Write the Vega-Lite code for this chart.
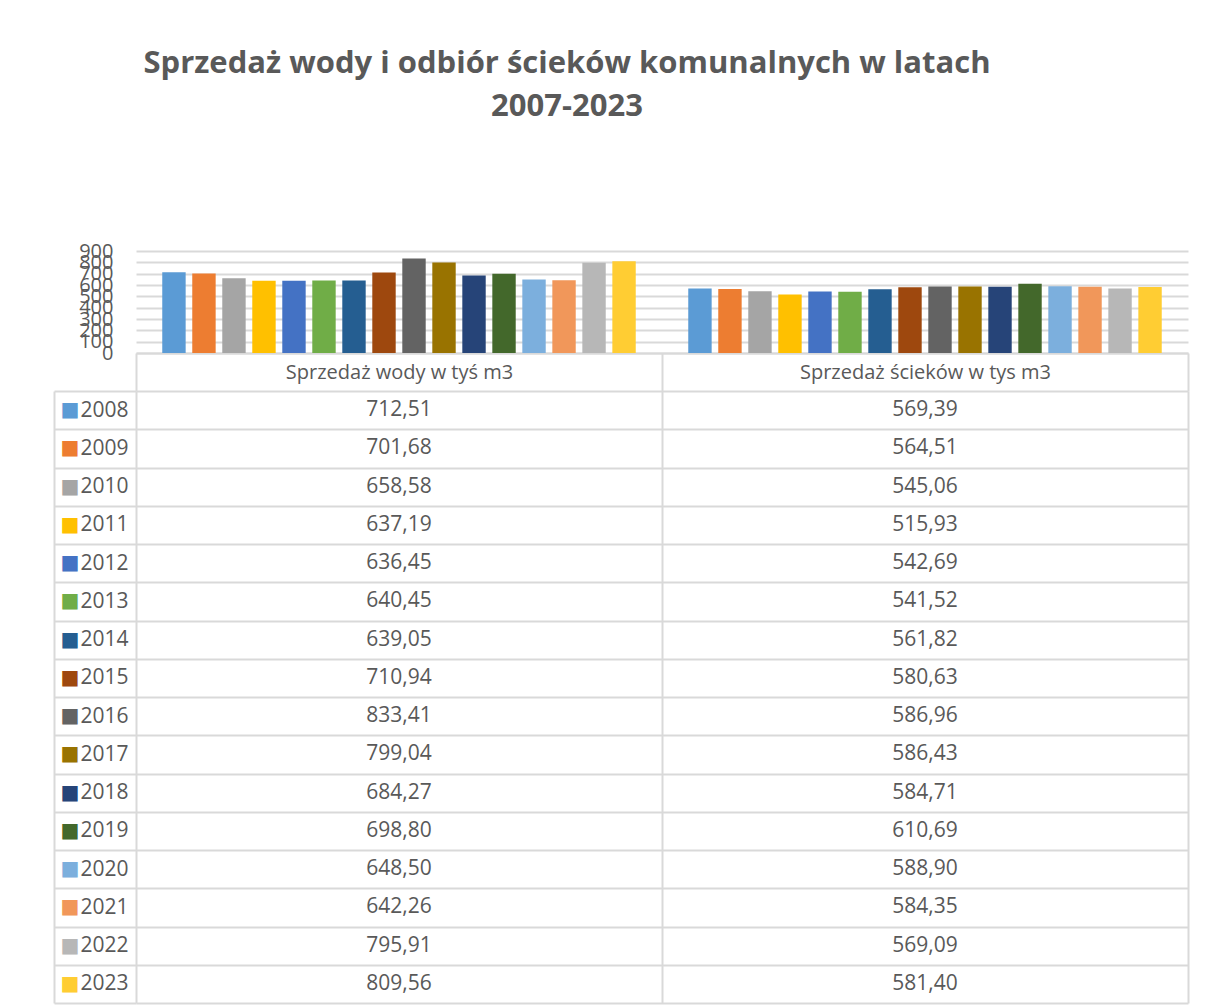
{
  "$schema": "https://vega.github.io/schema/vega-lite/v6.json",
  "padding": {"left": 53, "top": 48, "right": 5, "bottom": 5},
  "background": "white",
  "config": {
    "font": "Open Sans",
    "locale": {"number": {"decimal": ",", "thousands": " ", "grouping": [3], "currency": ["", " zł"]}},
    "view": {"stroke": null},
    "axis": {"labelFont": "Open Sans", "labelColor": "#595959"}
  },
  "title": {
    "text": ["Sprzedaż wody i odbiór ścieków komunalnych w latach", "2007-2023"],
    "font": "Open Sans",
    "fontSize": 31,
    "fontWeight": "bold",
    "color": "#595959",
    "lineHeight": 43,
    "offset": 118,
    "dx": -54,
    "anchor": "middle"
  },
  "data": {
    "values": [
      {"rok": "2008", "kategoria": "Sprzedaż wody w tyś m3", "wartosc": 712.51},
      {"rok": "2009", "kategoria": "Sprzedaż wody w tyś m3", "wartosc": 701.68},
      {"rok": "2010", "kategoria": "Sprzedaż wody w tyś m3", "wartosc": 658.58},
      {"rok": "2011", "kategoria": "Sprzedaż wody w tyś m3", "wartosc": 637.19},
      {"rok": "2012", "kategoria": "Sprzedaż wody w tyś m3", "wartosc": 636.45},
      {"rok": "2013", "kategoria": "Sprzedaż wody w tyś m3", "wartosc": 640.45},
      {"rok": "2014", "kategoria": "Sprzedaż wody w tyś m3", "wartosc": 639.05},
      {"rok": "2015", "kategoria": "Sprzedaż wody w tyś m3", "wartosc": 710.94},
      {"rok": "2016", "kategoria": "Sprzedaż wody w tyś m3", "wartosc": 833.41},
      {"rok": "2017", "kategoria": "Sprzedaż wody w tyś m3", "wartosc": 799.04},
      {"rok": "2018", "kategoria": "Sprzedaż wody w tyś m3", "wartosc": 684.27},
      {"rok": "2019", "kategoria": "Sprzedaż wody w tyś m3", "wartosc": 698.80},
      {"rok": "2020", "kategoria": "Sprzedaż wody w tyś m3", "wartosc": 648.50},
      {"rok": "2021", "kategoria": "Sprzedaż wody w tyś m3", "wartosc": 642.26},
      {"rok": "2022", "kategoria": "Sprzedaż wody w tyś m3", "wartosc": 795.91},
      {"rok": "2023", "kategoria": "Sprzedaż wody w tyś m3", "wartosc": 809.56},
      {"rok": "2008", "kategoria": "Sprzedaż ścieków w tys m3", "wartosc": 569.39},
      {"rok": "2009", "kategoria": "Sprzedaż ścieków w tys m3", "wartosc": 564.51},
      {"rok": "2010", "kategoria": "Sprzedaż ścieków w tys m3", "wartosc": 545.06},
      {"rok": "2011", "kategoria": "Sprzedaż ścieków w tys m3", "wartosc": 515.93},
      {"rok": "2012", "kategoria": "Sprzedaż ścieków w tys m3", "wartosc": 542.69},
      {"rok": "2013", "kategoria": "Sprzedaż ścieków w tys m3", "wartosc": 541.52},
      {"rok": "2014", "kategoria": "Sprzedaż ścieków w tys m3", "wartosc": 561.82},
      {"rok": "2015", "kategoria": "Sprzedaż ścieków w tys m3", "wartosc": 580.63},
      {"rok": "2016", "kategoria": "Sprzedaż ścieków w tys m3", "wartosc": 586.96},
      {"rok": "2017", "kategoria": "Sprzedaż ścieków w tys m3", "wartosc": 586.43},
      {"rok": "2018", "kategoria": "Sprzedaż ścieków w tys m3", "wartosc": 584.71},
      {"rok": "2019", "kategoria": "Sprzedaż ścieków w tys m3", "wartosc": 610.69},
      {"rok": "2020", "kategoria": "Sprzedaż ścieków w tys m3", "wartosc": 588.90},
      {"rok": "2021", "kategoria": "Sprzedaż ścieków w tys m3", "wartosc": 584.35},
      {"rok": "2022", "kategoria": "Sprzedaż ścieków w tys m3", "wartosc": 569.09},
      {"rok": "2023", "kategoria": "Sprzedaż ścieków w tys m3", "wartosc": 581.40}
    ]
  },
  "bounds": "flush",
  "spacing": 38,
  "vconcat": [
    {
      "width": 1052,
      "height": 102,
      "view": {"stroke": null},
      "mark": {"type": "bar"},
      "encoding": {
        "x": {
          "field": "kategoria", "type": "nominal",
          "sort": ["Sprzedaż wody w tyś m3", "Sprzedaż ścieków w tys m3"],
          "scale": {"type": "band", "paddingInner": 0, "paddingOuter": 0},
          "axis": {
            "title": null, "tickBand": "extent", "ticks": true, "tickSize": 38,
            "tickColor": "#d9d9d9", "tickWidth": 2, "domain": true,
            "domainColor": "#d9d9d9", "domainWidth": 2, "labelAngle": 0,
            "labelPadding": -19, "labelBaseline": "middle", "labelFontSize": 20,
            "labelLimit": 0, "labelColor": "#595959", "grid": false
          }
        },
        "xOffset": {
          "field": "rok", "type": "nominal",
          "scale": {"paddingInner": 0.22, "paddingOuter": 0.875}
        },
        "y": {
          "field": "wartosc", "type": "quantitative",
          "scale": {"domain": [0, 900], "nice": false},
          "axis": {
            "title": null, "values": [0, 100, 200, 300, 400, 500, 600, 700, 800, 900],
            "grid": true, "gridColor": "#d9d9d9", "gridWidth": 2, "domain": false,
            "ticks": false, "labelPadding": 23, "labelFontSize": 20,
            "labelOverlap": false, "labelFlush": false, "labelColor": "#595959"
          }
        },
        "color": {
          "field": "rok", "type": "nominal",
          "scale": {
            "domain": ["2008","2009","2010","2011","2012","2013","2014","2015","2016","2017","2018","2019","2020","2021","2022","2023"],
            "range": ["#5B9BD5","#ED7D31","#A5A5A5","#FFC000","#4472C4","#70AD47","#255E91","#9E480E","#636363","#997300","#264478","#43682B","#7CAFDD","#F1975A","#B7B7B7","#FFCD33"]
          },
          "legend": null
        }
      }
    },
    {
      "width": 1052,
      "height": 612,
      "view": {"stroke": null},
      "layer": [
        {
          "mark": {"type": "text", "fontSize": 21, "color": "#595959", "font": "Open Sans"},
          "encoding": {
            "x": {
              "field": "kategoria", "type": "nominal",
              "sort": ["Sprzedaż wody w tyś m3", "Sprzedaż ścieków w tys m3"],
              "scale": {"type": "band", "paddingInner": 0, "paddingOuter": 0},
              "axis": {
                "title": null, "labels": false, "ticks": false, "domain": false,
                "grid": true, "tickBand": "extent", "gridColor": "#d9d9d9", "gridWidth": 2
              }
            },
            "y": {
              "field": "rok", "type": "nominal",
              "scale": {"type": "band", "paddingInner": 0, "paddingOuter": 0},
              "axis": {
                "title": null, "tickBand": "extent", "grid": true, "gridColor": "#d9d9d9",
                "gridWidth": 2, "ticks": true, "tickSize": 82, "tickColor": "#d9d9d9",
                "tickWidth": 2, "domain": false, "labelPadding": -74, "labelFontSize": 21,
                "labelColor": "#595959"
              }
            },
            "text": {"field": "wartosc", "type": "quantitative", "format": ".2f"}
          }
        },
        {
          "mark": {"type": "point", "opacity": 0},
          "encoding": {
            "y": {
              "field": "rok", "type": "nominal",
              "scale": {"type": "band", "paddingInner": 0, "paddingOuter": 0},
              "axis": {
                "orient": "left", "offset": 82, "title": null, "domain": true,
                "domainColor": "#d9d9d9", "domainWidth": 2, "ticks": false, "grid": false,
                "labelExpr": "'■'", "labelFont": "DejaVu Sans", "labelFontSize": 20,
                "labelAlign": "left", "labelPadding": -6,
                "labelColor": {
                  "condition": [
                    {"test": "datum.value == '2008'", "value": "#5B9BD5"},
                    {"test": "datum.value == '2009'", "value": "#ED7D31"},
                    {"test": "datum.value == '2010'", "value": "#A5A5A5"},
                    {"test": "datum.value == '2011'", "value": "#FFC000"},
                    {"test": "datum.value == '2012'", "value": "#4472C4"},
                    {"test": "datum.value == '2013'", "value": "#70AD47"},
                    {"test": "datum.value == '2014'", "value": "#255E91"},
                    {"test": "datum.value == '2015'", "value": "#9E480E"},
                    {"test": "datum.value == '2016'", "value": "#636363"},
                    {"test": "datum.value == '2017'", "value": "#997300"},
                    {"test": "datum.value == '2018'", "value": "#264478"},
                    {"test": "datum.value == '2019'", "value": "#43682B"},
                    {"test": "datum.value == '2020'", "value": "#7CAFDD"},
                    {"test": "datum.value == '2021'", "value": "#F1975A"},
                    {"test": "datum.value == '2022'", "value": "#B7B7B7"},
                    {"test": "datum.value == '2023'", "value": "#FFCD33"}
                  ],
                  "value": "#595959"
                }
              }
            }
          }
        }
      ],
      "resolve": {"scale": {"y": "independent"}, "axis": {"y": "independent"}}
    }
  ]
}
